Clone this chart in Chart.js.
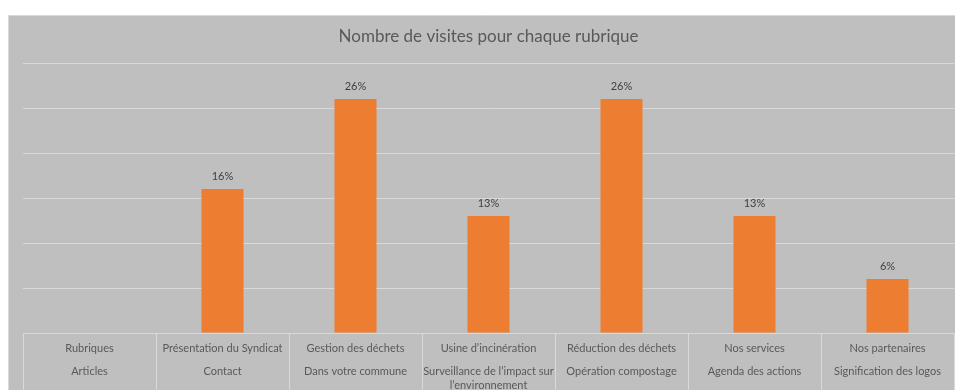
<!DOCTYPE html>
<html lang="fr">
<head>
<meta charset="utf-8">
<script src="https://cdn.jsdelivr.net/npm/chart.js@4/dist/chart.umd.min.js"></script>
<style>
  html, body { margin: 0; padding: 0; background: #ffffff; }
  #wrap { width: 955px; height: 390px; }
</style>
</head>
<body>
<div id="wrap"><canvas id="chart" width="955" height="390"></canvas></div>
<script>
// Rubriques (first line) and articles (following lines) of each category
const rubriques = ['Rubriques', 'Présentation du Syndicat', 'Gestion des déchets', 'Usine d’incinération', 'Réduction des déchets', 'Nos services', 'Nos partenaires'];
const articles = [['Articles'], ['Contact'], ['Dans votre commune'], ['Surveillance de l’impact sur', 'l’environnement'], ['Opération compostage'], ['Agenda des actions'], ['Signification des logos']];
// Share of visits, in percent (header column has no bar)
const visites = [null, 16, 26, 13, 26, 13, 6];
const yTicksMax = 30;
const yTicksStep = 5;

const GRID = '#D9D9D9';
const TEXT = '#595959';
const FONT = 'Lato, "Open Sans", sans-serif';

// Grey panel behind the whole chart
const panel = {
  id: 'panel',
  beforeDraw(chart) {
    const ctx = chart.ctx;
    ctx.save();
    ctx.fillStyle = '#BFBFBF';
    ctx.fillRect(8, 15, chart.width - 8, chart.height - 15);
    ctx.strokeStyle = GRID;
    ctx.lineWidth = 1;
    ctx.beginPath();
    ctx.moveTo(8.5, chart.height);
    ctx.lineTo(8.5, 15.5);
    ctx.lineTo(chart.width, 15.5);
    ctx.stroke();
    ctx.restore();
  }
};

// Value labels above each bar
const valueLabels = {
  id: 'valueLabels',
  afterDatasetsDraw(chart) {
    const ctx = chart.ctx;
    const meta = chart.getDatasetMeta(0);
    ctx.save();
    ctx.font = '11px ' + FONT;
    ctx.fillStyle = '#404040';
    ctx.textAlign = 'center';
    ctx.textBaseline = 'middle';
    meta.data.forEach((bar, i) => {
      const v = visites[i];
      if (v === null || v === undefined) return;
      ctx.fillText(v + '%', bar.x, bar.y - 12.5);
    });
    ctx.restore();
  }
};

// Two-level category table under the plot
const categoryTable = {
  id: 'categoryTable',
  afterDraw(chart) {
    const ctx = chart.ctx;
    const xs = chart.scales.x;
    const area = chart.chartArea;
    const n = rubriques.length;
    const step = (area.right - area.left) / n;
    ctx.save();
    ctx.strokeStyle = GRID;
    ctx.lineWidth = 1;
    ctx.beginPath();
    for (let i = 0; i <= n; i++) {
      const x = Math.round(area.left + i * step) + 0.5;
      ctx.moveTo(x, area.bottom);
      ctx.lineTo(x, chart.height);
    }
    ctx.stroke();
    ctx.font = '11px ' + FONT;
    ctx.fillStyle = TEXT;
    ctx.textAlign = 'center';
    ctx.textBaseline = 'middle';
    for (let i = 0; i < n; i++) {
      const x = xs.getPixelForValue(i);
      ctx.fillText(rubriques[i], x, area.bottom + 15.5);
      articles[i].forEach((line, j) => {
        ctx.fillText(line, x, area.bottom + 38.5 + j * 13.5);
      });
    }
    ctx.restore();
  }
};

new Chart(document.getElementById('chart'), {
  type: 'bar',
  data: {
    labels: rubriques,
    datasets: [{
      data: visites,
      backgroundColor: '#ED7D31',
      categoryPercentage: 1,
      barPercentage: 0.316
    }]
  },
  options: {
    responsive: false,
    animation: false,
    layout: { padding: { left: 23, right: 1, top: 0, bottom: 57 } },
    plugins: {
      legend: { display: false },
      tooltip: { enabled: false },
      title: {
        display: true,
        text: 'Nombre de visites pour chaque rubrique',
        color: TEXT,
        font: { family: FONT, size: 17, weight: 'normal' },
        padding: { top: 26, bottom: 16.6 }
      }
    },
    scales: {
      x: { display: false },
      y: {
        min: 0,
        max: yTicksMax,
        ticks: { display: false, stepSize: yTicksStep },
        grid: { color: GRID, drawTicks: false },
        border: { display: false }
      }
    }
  },
  plugins: [panel, valueLabels, categoryTable]
});
</script>
</body>
</html>
